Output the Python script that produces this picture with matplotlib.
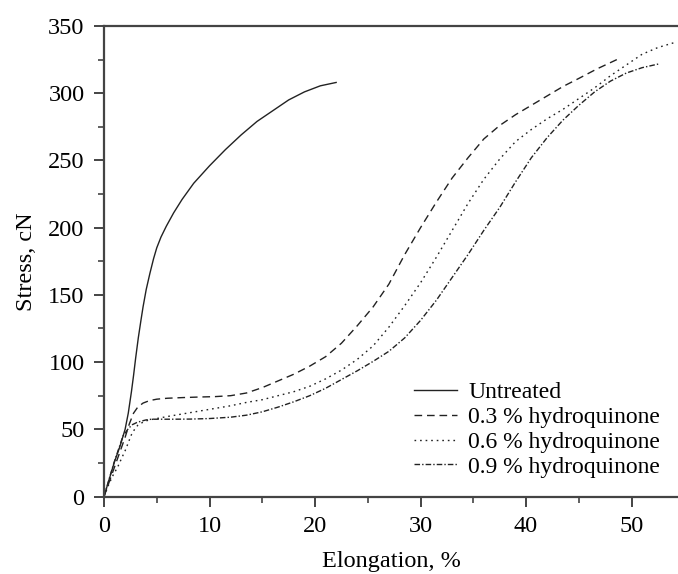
import matplotlib.pyplot as plt
from matplotlib.ticker import MultipleLocator

plt.rcParams['font.family'] = ['Liberation Serif', 'DejaVu Serif']

# Stress-strain curves (elongation %, stress cN)
x_untreated = [0, 0.5, 1.0, 1.5, 2.0, 2.3, 2.6, 2.8, 3.0, 3.25, 3.5, 3.7, 4.0, 4.35, 4.7, 5.0,
               5.4, 5.9, 6.6, 7.4, 8.5, 10.0, 11.5, 13.0, 14.5, 16.0, 17.5, 19.0, 20.5, 22.0]
y_untreated = [0, 13, 26, 37, 50, 62, 78, 90, 103, 118, 131, 141, 154, 166, 177, 185,
               193, 201, 211, 221, 233, 246, 258, 269, 279, 287, 295, 301, 305.5, 308]

x_hq03 = [0, 1.0, 2.0, 2.4, 2.8, 3.2, 3.7, 4.3, 5.0, 6.0, 7.5, 9.0, 10.5, 12.0, 13.5, 15.0,
          16.5, 18.0, 19.5, 21.0, 22.5, 24.0, 25.5, 27.0, 28.5, 30.0, 31.5, 33.0, 34.5, 36.0,
          37.5, 39.0, 40.5, 42.0, 43.5, 45.0, 46.7, 48.6]
y_hq03 = [0, 22, 44, 54, 62, 66.5, 69.5, 71.3, 72.4, 73.1, 73.6, 74, 74.3, 75, 77, 81,
          86, 91, 97, 104, 114, 127, 141, 158, 180, 200, 219, 237, 252, 266,
          276, 284, 291, 298, 305, 311, 318, 325]

x_hq06 = [0, 0.4, 0.8, 1.3, 1.7, 2.0, 2.3, 2.6, 2.9, 3.2, 3.5, 3.9, 4.3, 5.0, 6.0, 7.5,
          9.0, 10.5, 12.0, 13.5, 15.0, 16.5, 18.0, 19.5, 21.0, 22.5, 24.0, 25.5, 27.0, 28.5,
          30.0, 31.5, 33.0, 34.5, 36.0, 37.5, 39.0, 40.5, 42.0, 43.5, 45.0, 46.5, 48.0, 49.5,
          51.0, 52.5, 54.2]
y_hq06 = [0, 8, 15, 22, 29, 34, 40, 46, 50, 53, 54.5, 56, 57, 58, 59.5, 61.5,
          63.5, 65.5, 67.5, 70, 72, 75, 78, 82, 87.5, 94, 102, 112, 126, 142,
          159, 178, 198, 218, 236, 251, 264, 273, 281, 288, 296, 304, 313, 321,
          329, 334, 338]

x_hq09 = [0, 0.9, 1.8, 2.3, 2.7, 3.1, 3.5, 4.0, 4.5, 5.0, 6.5, 8.2, 10.0, 12.0, 13.5, 15.0,
          16.5, 18.0, 19.5, 21.0, 22.5, 24.0, 25.5, 27.0, 28.5, 30.0, 31.5, 33.0, 34.5, 36.0,
          37.5, 39.0, 40.5, 42.0, 43.5, 45.0, 46.5, 48.0, 49.5, 51.0, 52.7]
y_hq09 = [0, 24, 45, 50.5, 53.5, 55, 56, 57, 57.5, 57.5, 57.5, 57.6, 58, 59, 60.5, 63,
          66.5, 70.5, 75, 80.5, 87, 93.5, 100.5, 108, 118, 131, 146, 163, 180, 198,
          215, 234, 252, 267, 280, 291, 301, 309, 315, 319, 322]

labels = ['Untreated', '0.3 % hydroquinone', '0.6 % hydroquinone', '0.9 % hydroquinone']

fig = plt.figure(figsize=(6.78, 5.74), dpi=100)
ax = fig.add_axes([0.1534, 0.135, 0.8466, 0.8197])

c = '#222222'
ax.plot(x_untreated, y_untreated, color=c, lw=1.0, ls='-', label=labels[0])
ax.plot(x_hq03, y_hq03, color=c, lw=1.0, ls=(0, (5.5, 3.5)), label=labels[1])
ax.plot(x_hq06, y_hq06, color=c, lw=1.0, ls=(0, (1.2, 2.8)), label=labels[2])
ax.plot(x_hq09, y_hq09, color=c, lw=1.0, ls=(0, (4, 1.5, 1, 1.5)), label=labels[3])

ax.set_xlim(0, 54.4)
ax.set_ylim(0, 350)
ax.xaxis.set_major_locator(MultipleLocator(10))
ax.xaxis.set_minor_locator(MultipleLocator(5))
ax.yaxis.set_major_locator(MultipleLocator(50))
ax.yaxis.set_minor_locator(MultipleLocator(25))

for s in ['left', 'bottom', 'top']:
    ax.spines[s].set_linewidth(1.6)
    ax.spines[s].set_color('#444444')
ax.spines['right'].set_visible(False)

ax.tick_params(which='major', direction='out', length=7, width=1.4, color='#444444',
               labelsize=17.5, pad=7)
ax.tick_params(which='minor', direction='out', length=4, width=1.2, color='#444444')
ax.tick_params(axis='x', which='both', top=False)
ax.tick_params(axis='y', which='both', right=False)

ax.set_xlabel('Elongation, %', fontsize=17.5, labelpad=10)
ax.set_ylabel('Stress, cN', fontsize=17.5, labelpad=8)

ax.legend(loc='lower right', bbox_to_anchor=(0.969, 0.04), frameon=False, fontsize=17,
          handlelength=1.8, handletextpad=0.5, labelspacing=0.14, borderpad=0,
          borderaxespad=0)

fig.savefig('out.png', dpi=100)
